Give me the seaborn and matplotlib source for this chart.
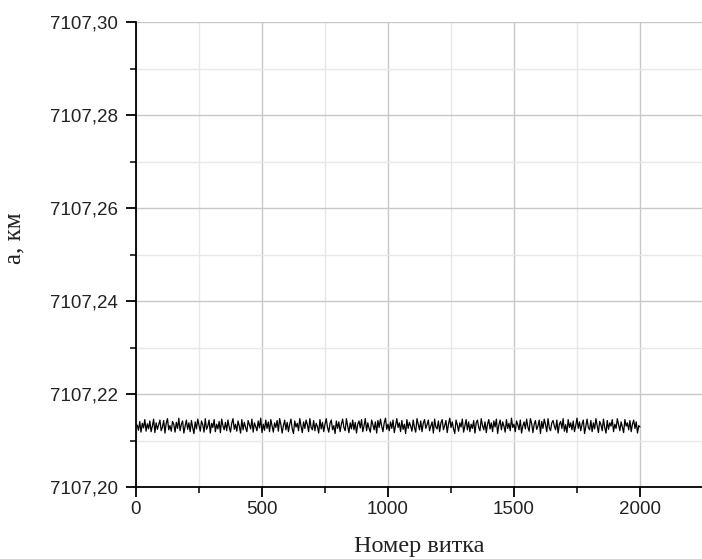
import numpy as np
import pandas as pd
import matplotlib
matplotlib.use("Agg")
import matplotlib.pyplot as plt
from matplotlib.ticker import MultipleLocator, FuncFormatter
import seaborn as sns

# Semi-major axis of the orbit, sampled every 5th orbit
orbit_step = 5
orbit_count = 2000
a_km = [
    7107.2133, 7107.2122, 7107.2141, 7107.2118, 7107.2137, 7107.2127, 7107.2145, 7107.2120, 7107.2136, 7107.2125,
    7107.2142, 7107.2119, 7107.2131, 7107.2146, 7107.2117, 7107.2138, 7107.2124, 7107.2134, 7107.2144, 7107.2121,
    7107.2129, 7107.2143, 7107.2116, 7107.2137, 7107.2147, 7107.2123, 7107.2132, 7107.2120, 7107.2141, 7107.2135,
    7107.2118, 7107.2139, 7107.2126, 7107.2148, 7107.2121, 7107.2135, 7107.2142, 7107.2116, 7107.2131, 7107.2144,
    7107.2124, 7107.2138, 7107.2119, 7107.2143, 7107.2128, 7107.2115, 7107.2140, 7107.2125, 7107.2146, 7107.2133,
    7107.2120, 7107.2142, 7107.2134, 7107.2118, 7107.2147, 7107.2124, 7107.2131, 7107.2144, 7107.2116, 7107.2137,
    7107.2128, 7107.2145, 7107.2119, 7107.2135, 7107.2125, 7107.2141, 7107.2117, 7107.2146, 7107.2132, 7107.2123,
    7107.2139, 7107.2121, 7107.2144, 7107.2129, 7107.2118, 7107.2137, 7107.2147, 7107.2124, 7107.2135, 7107.2120,
    7107.2142, 7107.2131, 7107.2116, 7107.2145, 7107.2123, 7107.2139, 7107.2128, 7107.2119, 7107.2143, 7107.2134,
    7107.2125, 7107.2146, 7107.2118, 7107.2138, 7107.2130, 7107.2121, 7107.2142, 7107.2127, 7107.2148, 7107.2117,
    7107.2135, 7107.2122, 7107.2144, 7107.2126, 7107.2140, 7107.2119, 7107.2145, 7107.2131, 7107.2118, 7107.2138,
    7107.2128, 7107.2143, 7107.2120, 7107.2147, 7107.2134, 7107.2116, 7107.2132, 7107.2144, 7107.2123, 7107.2139,
    7107.2119, 7107.2135, 7107.2146, 7107.2125, 7107.2115, 7107.2142, 7107.2129, 7107.2137, 7107.2121, 7107.2147,
    7107.2131, 7107.2117, 7107.2140, 7107.2126, 7107.2144, 7107.2134, 7107.2119, 7107.2147, 7107.2128, 7107.2123,
    7107.2143, 7107.2121, 7107.2137, 7107.2130, 7107.2116, 7107.2145, 7107.2125, 7107.2139, 7107.2119, 7107.2135,
    7107.2147, 7107.2128, 7107.2118, 7107.2137, 7107.2144, 7107.2123, 7107.2132, 7107.2115, 7107.2142, 7107.2126,
    7107.2140, 7107.2119, 7107.2135, 7107.2146, 7107.2128, 7107.2121, 7107.2147, 7107.2131, 7107.2117, 7107.2138,
    7107.2125, 7107.2144, 7107.2123, 7107.2139, 7107.2116, 7107.2135, 7107.2142, 7107.2127, 7107.2145, 7107.2119,
    7107.2132, 7107.2147, 7107.2121, 7107.2138, 7107.2126, 7107.2118, 7107.2144, 7107.2134, 7107.2123, 7107.2140,
    7107.2116, 7107.2143, 7107.2128, 7107.2146, 7107.2131, 7107.2119, 7107.2138, 7107.2148, 7107.2124, 7107.2135,
    7107.2121, 7107.2140, 7107.2126, 7107.2144, 7107.2117, 7107.2132, 7107.2147, 7107.2128, 7107.2138, 7107.2119,
    7107.2143, 7107.2124, 7107.2135, 7107.2115, 7107.2145, 7107.2126, 7107.2139, 7107.2131, 7107.2120, 7107.2144,
    7107.2128, 7107.2118, 7107.2147, 7107.2135, 7107.2123, 7107.2142, 7107.2119, 7107.2137, 7107.2145, 7107.2126,
    7107.2134, 7107.2144, 7107.2121, 7107.2131, 7107.2140, 7107.2116, 7107.2146, 7107.2129, 7107.2125, 7107.2142,
    7107.2119, 7107.2138, 7107.2145, 7107.2123, 7107.2132, 7107.2143, 7107.2117, 7107.2135, 7107.2148, 7107.2128,
    7107.2140, 7107.2125, 7107.2115, 7107.2144, 7107.2134, 7107.2120, 7107.2138, 7107.2129, 7107.2146, 7107.2118,
    7107.2131, 7107.2145, 7107.2123, 7107.2140, 7107.2119, 7107.2135, 7107.2126, 7107.2143, 7107.2116, 7107.2138,
    7107.2144, 7107.2128, 7107.2121, 7107.2147, 7107.2132, 7107.2123, 7107.2140, 7107.2117, 7107.2135, 7107.2145,
    7107.2125, 7107.2138, 7107.2119, 7107.2142, 7107.2129, 7107.2146, 7107.2115, 7107.2134, 7107.2144, 7107.2123,
    7107.2140, 7107.2131, 7107.2118, 7107.2145, 7107.2126, 7107.2137, 7107.2121, 7107.2148, 7107.2128, 7107.2135,
    7107.2119, 7107.2142, 7107.2134, 7107.2123, 7107.2144, 7107.2116, 7107.2131, 7107.2140, 7107.2125, 7107.2146,
    7107.2129, 7107.2120, 7107.2147, 7107.2137, 7107.2117, 7107.2134, 7107.2143, 7107.2124, 7107.2131, 7107.2144,
    7107.2115, 7107.2141, 7107.2126, 7107.2146, 7107.2134, 7107.2119, 7107.2147, 7107.2128, 7107.2121, 7107.2138,
    7107.2143, 7107.2131, 7107.2123, 7107.2144, 7107.2116, 7107.2135, 7107.2141, 7107.2126, 7107.2147, 7107.2120,
    7107.2134, 7107.2117, 7107.2145, 7107.2128, 7107.2138, 7107.2123, 7107.2142, 7107.2119, 7107.2132, 7107.2148,
    7107.2126, 7107.2140, 7107.2121, 7107.2135, 7107.2144, 7107.2115, 7107.2131, 7107.2146, 7107.2128, 7107.2123,
    7107.2143, 7107.2119, 7107.2138, 7107.2125, 7107.2147, 7107.2132, 7107.2117, 7107.2141, 7107.2134, 7107.2121,
    7107.2146, 7107.2128, 7107.2116, 7107.2143, 7107.2124, 7107.2138, 7107.2131, 7107.2145, 7107.2119, 7107.2135,
    7107.2126, 7107.2147, 7107.2134, 7107.2121, 7107.2140, 7107.2129, 7107.2117, 7107.2145, 7107.2131, 7107.2138,
    7107.2123, 7107.2143, 7107.2119, 7107.2135, 7107.2144, 7107.2126, 7107.2140, 7107.2116, 7107.2132, 7107.2129,
]
orbit = np.arange(orbit_step, orbit_count + 1, orbit_step)
df = pd.DataFrame({"orbit": orbit, "a": a_km})

x_ticks = [0, 500, 1000, 1500, 2000]
y_ticks = [7107.20, 7107.22, 7107.24, 7107.26, 7107.28, 7107.30]

sns.set_style("white")
plt.rcParams["font.family"] = ["Liberation Sans", "DejaVu Sans"]

fig = plt.figure(figsize=(7.02, 5.59), dpi=100)
ax = fig.add_axes([0.1937, 0.1288, 0.8063, 0.8318])

sns.lineplot(data=df, x="orbit", y="a", color="black", linewidth=0.9, ax=ax)

ax.set_xlim(0, 2246)
ax.set_ylim(7107.20, 7107.30)
ax.set_xticks(x_ticks)
ax.set_yticks(y_ticks)
ax.xaxis.set_minor_locator(MultipleLocator(250))
ax.yaxis.set_minor_locator(MultipleLocator(0.01))
ax.yaxis.set_major_formatter(FuncFormatter(lambda v, p: f"{v:.2f}".replace(".", ",")))

ax.grid(which="major", color="#c8c8c8", linewidth=1.0)
ax.grid(which="minor", color="#e8e8e8", linewidth=1.0)
ax.set_axisbelow(True)

for side in ("top", "right"):
    ax.spines[side].set_visible(False)
for side in ("left", "bottom"):
    ax.spines[side].set_color("black")
    ax.spines[side].set_linewidth(1.3)

ax.tick_params(which="major", direction="out", length=7, width=1.3, color="black",
               labelsize=13.5, labelcolor="#222222", left=True, bottom=True)
ax.tick_params(axis="y", which="major", pad=6)
ax.tick_params(axis="x", which="major", pad=3)
ax.tick_params(which="minor", direction="out", length=4, width=1.1, color="black",
               left=True, bottom=True)

serif = ["Liberation Serif", "DejaVu Serif"]
ax.set_xlabel("Номер витка", fontsize=17.5, family=serif, color="#222222")
ax.set_ylabel("a, км", fontsize=18, family=serif, color="#222222")
ax.xaxis.set_label_coords(0.5, -0.105)
ax.yaxis.set_label_coords(-0.195, 0.535)

fig.savefig("out.png", dpi=100)
